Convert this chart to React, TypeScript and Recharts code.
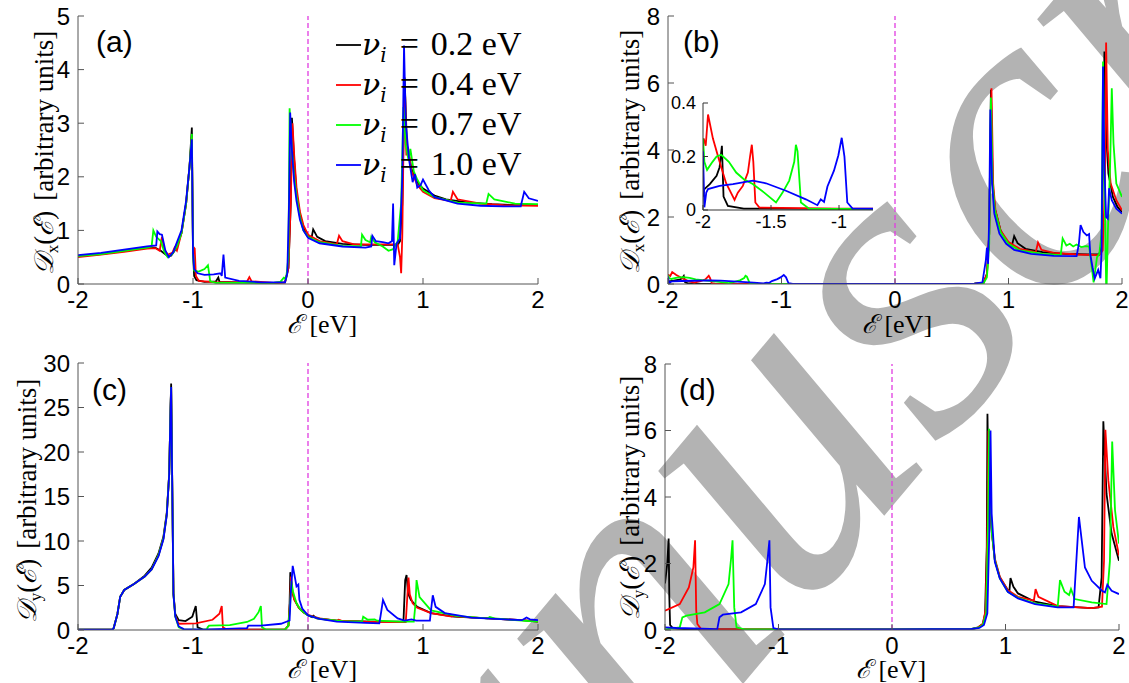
import React from "react";
import { LineChart, Line, XAxis, YAxis, ReferenceLine, CartesianGrid } from "recharts";

type Pt = [number, number];

// ---- axis ticks / labels ----
const xTicks = [-2, -1, 0, 1, 2];
const yTicksA = [0, 1, 2, 3, 4, 5];
const yTicksB = [0, 2, 4, 6, 8];
const yTicksC = [0, 5, 10, 15, 20, 25, 30];
const yTicksD = [0, 2, 4, 6, 8];
const insetXTicks = [-2, -1.5, -1];
const insetYTicks = [0, 0.2, 0.4];

const nuValues = ["0.2", "0.4", "0.7", "1.0"];
const colors = ["#000000", "#ff0000", "#00ff00", "#0000ff"];

// ---- panel (a): D_x, nu = 0.2 / 0.4 / 0.7 / 1.0 ----
const aBlack: Pt[] = [[-2,0.52],[-1.8,0.56],[-1.6,0.62],[-1.4,0.68],[-1.33,0.68],[-1.28,0.62],[-1.22,0.52],[-1.19,0.53],[-1.15,0.65],[-1.1,0.95],[-1.06,1.5],[-1.03,2.2],[-1.01,2.92],[-1.0,0.6],[-0.99,0.15],[-0.97,0.07],[-0.9,0.04],[-0.8,0.05],[-0.78,0.12],[-0.77,0.04],[-0.6,0.03],[-0.3,0.02],[-0.2,0.03],[-0.17,0.3],[-0.15,1.5],[-0.14,3.1],[-0.12,2.3],[-0.1,1.7],[-0.07,1.3],[-0.04,1.05],[0,0.9],[0.03,0.85],[0.045,1.02],[0.08,0.88],[0.15,0.8],[0.3,0.75],[0.5,0.73],[0.7,0.73],[0.78,0.73],[0.8,0.8],[0.82,1.5],[0.84,3.85],[0.86,2.6],[0.9,2.15],[0.95,1.9],[1.0,1.78],[1.1,1.65],[1.2,1.58],[1.4,1.52],[1.6,1.49],[1.8,1.47],[2,1.47]];
const aRed: Pt[] = [[-2,0.5],[-1.8,0.55],[-1.6,0.6],[-1.4,0.66],[-1.33,0.67],[-1.29,0.62],[-1.27,0.88],[-1.25,0.65],[-1.22,0.55],[-1.18,0.58],[-1.16,0.68],[-1.14,0.62],[-1.1,0.95],[-1.06,1.5],[-1.03,2.2],[-1.01,2.75],[-1.0,0.7],[-0.985,0.66],[-0.975,0.15],[-0.95,0.06],[-0.8,0.03],[-0.6,0.03],[-0.53,0.05],[-0.51,0.13],[-0.49,0.05],[-0.3,0.02],[-0.2,0.03],[-0.17,0.3],[-0.15,1.5],[-0.135,3.0],[-0.12,2.4],[-0.1,1.8],[-0.07,1.35],[-0.04,1.1],[0,0.92],[0.1,0.8],[0.25,0.74],[0.27,0.9],[0.3,0.8],[0.4,0.74],[0.6,0.74],[0.78,0.74],[0.8,0.5],[0.81,0.2],[0.82,0.9],[0.83,2.5],[0.845,3.5],[0.855,2.4],[0.87,2.55],[0.9,2.1],[0.95,1.85],[1.0,1.72],[1.1,1.6],[1.24,1.55],[1.26,1.72],[1.3,1.58],[1.5,1.5],[1.7,1.47],[2,1.46]];
const aGreen: Pt[] = [[-2,0.52],[-1.8,0.56],[-1.6,0.62],[-1.4,0.68],[-1.36,0.7],[-1.345,1.0],[-1.32,0.88],[-1.28,0.8],[-1.25,0.6],[-1.22,0.5],[-1.18,0.56],[-1.14,0.7],[-1.1,0.95],[-1.06,1.5],[-1.03,2.2],[-1.01,2.8],[-1.0,0.6],[-0.99,0.25],[-0.95,0.23],[-0.9,0.28],[-0.87,0.35],[-0.85,0.05],[-0.8,0.02],[-0.6,0.02],[-0.3,0.02],[-0.24,0.04],[-0.21,0.12],[-0.19,0.1],[-0.17,0.5],[-0.16,3.28],[-0.14,2.5],[-0.12,2.0],[-0.1,1.65],[-0.07,1.25],[-0.04,1.0],[0,0.88],[0.1,0.78],[0.3,0.71],[0.46,0.7],[0.47,0.92],[0.5,0.82],[0.54,0.78],[0.55,0.88],[0.58,0.78],[0.65,0.7],[0.7,0.62],[0.74,0.65],[0.78,0.8],[0.81,1.5],[0.83,3.3],[0.85,2.6],[0.875,2.3],[0.89,2.52],[0.92,2.1],[0.95,1.95],[1.0,1.75],[1.1,1.62],[1.3,1.52],[1.55,1.5],[1.57,1.68],[1.62,1.58],[1.8,1.5],[2,1.49]];
const aBlue: Pt[] = [[-2,0.54],[-1.8,0.58],[-1.6,0.64],[-1.4,0.7],[-1.32,0.72],[-1.31,0.98],[-1.29,0.93],[-1.27,0.92],[-1.24,0.62],[-1.21,0.5],[-1.19,0.55],[-1.17,0.6],[-1.15,0.72],[-1.1,1.0],[-1.06,1.55],[-1.03,2.2],[-1.01,2.7],[-1.0,0.6],[-0.99,0.28],[-0.96,0.2],[-0.9,0.17],[-0.82,0.18],[-0.76,0.2],[-0.75,0.15],[-0.735,0.55],[-0.72,0.12],[-0.6,0.06],[-0.4,0.03],[-0.2,0.03],[-0.18,0.2],[-0.165,1.5],[-0.155,3.2],[-0.14,2.5],[-0.12,1.9],[-0.1,1.55],[-0.07,1.2],[-0.04,1.0],[0,0.86],[0.1,0.76],[0.3,0.7],[0.5,0.68],[0.55,0.7],[0.56,0.9],[0.59,0.8],[0.65,0.78],[0.7,0.76],[0.73,0.8],[0.74,1.5],[0.75,0.35],[0.77,0.75],[0.8,0.85],[0.82,2.0],[0.835,4.45],[0.85,3.0],[0.88,2.3],[0.91,1.9],[0.93,2.05],[0.95,1.8],[0.98,1.85],[1.0,1.95],[1.05,1.75],[1.1,1.62],[1.3,1.5],[1.5,1.46],[1.7,1.45],[1.85,1.45],[1.88,1.72],[1.92,1.6],[2,1.55]];

// ---- panel (b): D_x, second set (inset re-uses these) ----
const bBlack: Pt[] = [[-2,0.05],[-1.99,0.078],[-1.95,0.097],[-1.9,0.128],[-1.878,0.16],[-1.861,0.24],[-1.849,0.05],[-1.817,0.015],[-1.7,0.005],[-1,0.004],[0,0.003],[0.7,0.01],[0.78,0.04],[0.81,0.3],[0.83,1.5],[0.845,5.8],[0.86,3.0],[0.88,2.25],[0.93,1.6],[0.98,1.3],[1.03,1.15],[1.05,1.43],[1.08,1.22],[1.15,1.05],[1.3,0.95],[1.5,0.9],[1.7,0.88],[1.8,0.88],[1.82,1.2],[1.835,4.0],[1.845,6.94],[1.86,4.5],[1.88,3.3],[1.92,2.6],[1.96,2.3],[2,2.15]];
const bRed: Pt[] = [[-2,0.25],[-1.995,0.267],[-1.98,0.24],[-1.963,0.357],[-1.927,0.267],[-1.878,0.18],[-1.83,0.1],[-1.768,0.038],[-1.744,0.065],[-1.707,0.09],[-1.67,0.14],[-1.654,0.2],[-1.641,0.244],[-1.63,0.18],[-1.615,0.028],[-1.585,0.009],[-1,0.005],[0,0.004],[0.7,0.01],[0.78,0.03],[0.81,0.3],[0.83,1.5],[0.85,5.84],[0.865,3.0],[0.885,2.2],[0.93,1.6],[1.0,1.25],[1.1,1.05],[1.24,0.95],[1.26,1.24],[1.29,1.02],[1.4,0.93],[1.6,0.88],[1.8,0.86],[1.83,1.0],[1.85,3.0],[1.86,7.21],[1.875,4.0],[1.9,3.0],[1.95,2.5],[2,2.2]];
const bGreen: Pt[] = [[-2,0.267],[-1.99,0.18],[-1.97,0.15],[-1.93,0.18],[-1.9,0.2],[-1.866,0.206],[-1.81,0.18],[-1.756,0.14],[-1.7,0.115],[-1.634,0.097],[-1.55,0.065],[-1.463,0.028],[-1.415,0.065],[-1.366,0.11],[-1.329,0.18],[-1.317,0.244],[-1.305,0.22],[-1.28,0.028],[-1.22,0.005],[-1,0.004],[0,0.003],[0.7,0.01],[0.78,0.02],[0.81,0.2],[0.83,1.2],[0.845,5.57],[0.86,3.0],[0.88,2.2],[0.93,1.55],[1.0,1.2],[1.1,1.0],[1.3,0.9],[1.46,0.86],[1.477,1.36],[1.51,1.15],[1.54,1.2],[1.57,1.12],[1.6,1.18],[1.64,1.1],[1.68,1.13],[1.71,1.12],[1.73,0.6],[1.75,0.05],[1.76,0.3],[1.78,0.8],[1.8,0.9],[1.82,1.5],[1.833,6.64],[1.845,3.0],[1.855,1.2],[1.86,0.0],[1.865,0.0],[1.875,1.5],[1.895,3.5],[1.91,5.84],[1.925,4.2],[1.95,3.0],[2,2.6]];
const bBlue: Pt[] = [[-2,0.22],[-1.99,0.01],[-1.976,0.065],[-1.963,0.078],[-1.878,0.09],[-1.78,0.097],[-1.634,0.11],[-1.537,0.1],[-1.39,0.072],[-1.244,0.04],[-1.159,0.018],[-1.134,0.04],[-1.11,0.03],[-1.085,0.088],[-1.037,0.147],[-1.005,0.204],[-0.98,0.27],[-0.97,0.235],[-0.96,0.2],[-0.939,0.028],[-0.9,0.005],[0,0.003],[0.7,0.01],[0.77,0.05],[0.8,0.7],[0.81,1.09],[0.82,0.6],[0.83,2.0],[0.84,5.21],[0.855,3.0],[0.875,2.1],[0.92,1.5],[0.98,1.2],[1.05,1.02],[1.2,0.9],[1.4,0.84],[1.6,0.83],[1.62,1.2],[1.635,1.76],[1.66,1.55],[1.69,1.45],[1.71,1.49],[1.72,0.9],[1.74,0.5],[1.76,0.17],[1.79,0.42],[1.81,0.17],[1.82,1.0],[1.833,6.49],[1.845,3.5],[1.86,2.0],[1.875,1.95],[1.886,2.86],[1.91,2.5],[1.95,2.25],[2,2.1]];

// ---- panel (c): D_y ----
const cBlack: Pt[] = [[-2,0.05],[-1.7,0.08],[-1.69,0.2],[-1.657,1.8],[-1.633,3.74],[-1.598,4.5],[-1.51,5.2],[-1.42,6.1],[-1.36,7.0],[-1.3,8.6],[-1.257,10.5],[-1.228,13.2],[-1.207,17.5],[-1.195,25.1],[-1.19,27.7],[-1.17,4.1],[-1.154,1.8],[-1.124,1.1],[-1.065,1.0],[-1.006,1.5],[-0.976,2.7],[-0.96,0.3],[-0.917,0.08],[-0.5,0.03],[-0.2,0.05],[-0.17,0.5],[-0.16,3.0],[-0.154,6.5],[-0.14,4.5],[-0.12,3.5],[-0.08,2.5],[-0.04,2.0],[0,1.65],[0.035,1.45],[0.047,1.6],[0.076,1.3],[0.25,1.05],[0.54,0.94],[0.83,0.94],[0.845,5.6],[0.857,6.18],[0.87,4.1],[0.895,3.37],[0.95,2.6],[1.07,1.9],[1.27,1.5],[1.57,1.3],[1.86,1.1],[2,0.95]];
const cRed: Pt[] = [[-2,0.05],[-1.7,0.08],[-1.69,0.2],[-1.657,1.8],[-1.633,3.74],[-1.598,4.5],[-1.51,5.2],[-1.42,6.0],[-1.36,6.8],[-1.3,8.4],[-1.257,10.3],[-1.228,13.0],[-1.207,17.5],[-1.195,25.0],[-1.19,27.3],[-1.17,4.1],[-1.154,1.6],[-1.124,0.7],[-0.976,0.75],[-0.83,1.15],[-0.77,1.83],[-0.75,2.7],[-0.74,0.3],[-0.71,0.08],[-0.5,0.03],[-0.2,0.05],[-0.17,0.5],[-0.155,3.5],[-0.148,6.0],[-0.135,4.3],[-0.12,3.4],[-0.08,2.5],[-0.04,2.0],[0,1.7],[0.1,1.3],[0.25,1.05],[0.266,1.15],[0.29,1.05],[0.54,0.92],[0.85,0.9],[0.86,3.0],[0.874,5.9],[0.885,4.0],[0.91,3.0],[0.95,2.5],[1.07,1.9],[1.25,1.5],[1.27,1.6],[1.3,1.5],[1.57,1.3],[1.86,1.1],[2,0.95]];
const cGreen: Pt[] = [[-2,0.05],[-1.7,0.08],[-1.69,0.2],[-1.657,1.8],[-1.633,3.74],[-1.598,4.5],[-1.51,5.2],[-1.42,6.0],[-1.36,6.8],[-1.3,8.4],[-1.257,10.3],[-1.228,13.0],[-1.207,17.5],[-1.195,25.0],[-1.19,27.3],[-1.17,4.0],[-1.154,1.5],[-1.124,0.3],[-1.08,0.08],[-0.88,0.05],[-0.873,0.3],[-0.86,0.5],[-0.68,0.55],[-0.53,0.9],[-0.47,1.26],[-0.43,2.0],[-0.41,2.7],[-0.4,0.3],[-0.37,0.08],[-0.2,0.05],[-0.17,0.5],[-0.155,3.0],[-0.145,5.5],[-0.13,4.3],[-0.1,3.0],[-0.06,2.2],[0,1.65],[0.1,1.25],[0.3,1.0],[0.47,0.95],[0.48,1.5],[0.52,1.15],[0.58,1.2],[0.6,1.05],[0.8,0.95],[0.92,0.95],[0.935,3.0],[0.944,5.6],[0.97,3.7],[1.07,2.2],[1.3,1.55],[1.56,1.3],[1.58,1.45],[1.62,1.3],[1.86,1.05],[2,0.95]];
const cBlue: Pt[] = [[-2,0.05],[-1.7,0.08],[-1.69,0.2],[-1.657,1.8],[-1.633,3.74],[-1.598,4.5],[-1.51,5.2],[-1.42,6.0],[-1.36,6.8],[-1.3,8.3],[-1.257,10.2],[-1.228,12.9],[-1.207,17.5],[-1.195,25.0],[-1.19,27.3],[-1.17,4.0],[-1.154,1.5],[-1.124,0.4],[-1.08,0.1],[-0.9,0.05],[-0.53,0.2],[-0.52,0.5],[-0.41,0.5],[-0.235,0.7],[-0.16,1.07],[-0.15,4.1],[-0.133,7.2],[-0.115,6.0],[-0.1,4.9],[-0.084,5.1],[-0.075,3.4],[-0.05,2.4],[0,1.64],[0.1,1.25],[0.25,0.95],[0.5,0.8],[0.62,0.75],[0.63,1.5],[0.652,3.37],[0.69,2.25],[0.78,1.3],[0.84,1.05],[0.9,1.2],[0.94,1.05],[1.06,1.05],[1.07,2.25],[1.085,3.9],[1.11,2.6],[1.19,1.9],[1.42,1.4],[1.86,1.1],[1.9,1.4],[1.93,1.2],[2,1.1]];

// ---- panel (d): D_y, second set ----
const dBlack: Pt[] = [[-2,1.4],[-1.98,2.0],[-1.968,2.75],[-1.962,1.0],[-1.955,0.15],[-1.93,0.05],[-1.8,0.02],[0,0.02],[0.7,0.03],[0.76,0.08],[0.8,0.18],[0.82,0.48],[0.835,2.5],[0.841,6.5],[0.85,4.5],[0.876,3.1],[0.906,2.1],[0.95,1.58],[1.02,1.2],[1.035,1.2],[1.044,1.56],[1.07,1.3],[1.11,1.1],[1.26,0.85],[1.46,0.72],[1.76,0.66],[1.82,0.68],[1.847,1.58],[1.862,6.28],[1.89,4.1],[1.935,2.9],[2,2.08]];
const dRed: Pt[] = [[-2,0.58],[-1.87,0.78],[-1.79,1.28],[-1.75,1.88],[-1.735,2.7],[-1.725,0.6],[-1.715,0.18],[-1.68,0.02],[0,0.02],[0.7,0.03],[0.76,0.08],[0.8,0.18],[0.825,0.6],[0.84,3.0],[0.85,6.0],[0.86,4.2],[0.88,2.9],[0.906,2.15],[0.95,1.6],[1.02,1.2],[1.11,1.0],[1.25,0.88],[1.265,1.23],[1.29,1.0],[1.46,0.72],[1.76,0.66],[1.85,0.7],[1.868,2.08],[1.88,6.02],[1.906,4.5],[1.95,3.1],[2,2.24]];
const dGreen: Pt[] = [[-2,0.02],[-1.87,0.08],[-1.847,0.38],[-1.81,0.43],[-1.65,0.53],[-1.52,0.78],[-1.44,1.38],[-1.417,2.18],[-1.405,2.7],[-1.39,0.68],[-1.37,0.08],[-1.3,0.02],[0,0.02],[0.7,0.03],[0.76,0.07],[0.8,0.15],[0.83,0.5],[0.845,3.0],[0.856,6.05],[0.866,4.0],[0.88,2.9],[0.906,2.1],[0.95,1.55],[1.02,1.15],[1.11,0.97],[1.26,0.8],[1.46,0.7],[1.48,1.5],[1.52,1.15],[1.56,1.05],[1.577,1.23],[1.61,0.93],[1.76,0.83],[1.89,0.78],[1.92,2.08],[1.94,5.67],[1.965,3.6],[2,2.6]];
const dBlue: Pt[] = [[-2,0.08],[-1.9,0.06],[-1.6,0.03],[-1.54,0.02],[-1.52,0.38],[-1.49,0.46],[-1.33,0.53],[-1.2,0.78],[-1.12,1.38],[-1.095,2.18],[-1.08,2.7],[-1.07,0.68],[-1.045,0.06],[-1.0,0.02],[0,0.02],[0.7,0.03],[0.77,0.06],[0.81,0.15],[0.84,0.5],[0.858,3.0],[0.868,6.0],[0.878,3.5],[0.906,2.05],[0.95,1.55],[1.02,1.15],[1.11,0.95],[1.26,0.78],[1.46,0.68],[1.6,0.68],[1.647,3.4],[1.7,1.88],[1.76,1.48],[1.85,1.18],[1.876,1.13],[1.897,1.36],[1.935,1.18],[2,1.08]];

const toRows = (pts: Pt[]) => pts.map(([x, y]) => ({ x, y }));

const sans = "'Liberation Sans', Arial, Helvetica, sans-serif";
const serif = "'Liberation Serif', 'DejaVu Serif', serif";
const mathItalic = "'DejaVu Serif', serif";
const frame = "#555";
const magenta = "#e03ce0";

type PanelProps = {
  left: number;
  top: number;
  width: number;
  height: number;
  padL: number;
  padT: number;
  padR: number;
  padB: number;
  yMax: number;
  yTicks: number[];
  series: Pt[][];
};

function Panel({ left, top, width, height, padL, padT, padR, padB, yMax, yTicks, series }: PanelProps) {
  const tickStyle = { fill: "#000", fontSize: 24, fontFamily: sans };
  return (
    <div style={{ position: "absolute", left, top, width, height }}>
      <LineChart width={width} height={height} margin={{ top: padT, right: padR, left: 0, bottom: 0 }}>
        <XAxis xAxisId="b" dataKey="x" type="number" domain={[-2, 2]} ticks={xTicks} height={padB}
          tickSize={-6} tickMargin={13} stroke={frame} tick={tickStyle} allowDataOverflow interval={0} />
        <XAxis xAxisId="t" orientation="top" dataKey="x" type="number" domain={[-2, 2]} ticks={xTicks} height={0}
          tickSize={-6} stroke={frame} tick={false} allowDataOverflow interval={0} />
        <YAxis yAxisId="l" type="number" domain={[0, yMax]} ticks={yTicks} width={padL}
          tickSize={-6} tickMargin={14} stroke={frame} tick={tickStyle} allowDataOverflow interval={0} />
        <YAxis yAxisId="r" orientation="right" type="number" domain={[0, yMax]} ticks={yTicks} width={0}
          tickSize={-6} stroke={frame} tick={false} allowDataOverflow interval={0} />
        <ReferenceLine xAxisId="b" yAxisId="l" x={0} stroke={magenta} strokeWidth={1.3} strokeDasharray="5 3" />
        {series.map((pts, i) => (
          <Line key={i} xAxisId="b" yAxisId="l" data={toRows(pts)} dataKey="y" type="linear"
            stroke={colors[i]} strokeWidth={1.8} dot={false} isAnimationActive={false} />
        ))}
      </LineChart>
    </div>
  );
}

function Inset() {
  const tickStyle = { fill: "#000", fontSize: 18, fontFamily: sans };
  const series = [bBlack, bRed, bGreen, bBlue];
  return (
    <div style={{ position: "absolute", left: 660, top: 85, width: 220, height: 155 }}>
      <LineChart width={220} height={155} margin={{ top: 18, right: 7, left: 0, bottom: 0 }}>
        <CartesianGrid xAxisId="b" yAxisId="l" fill="#fff" horizontal={false} vertical={false} />
        <XAxis xAxisId="b" dataKey="x" type="number" domain={[-2, -0.75]} ticks={insetXTicks} height={30}
          tickSize={-5} tickMargin={10} stroke="#333" tick={tickStyle} allowDataOverflow interval={0} />
        <XAxis xAxisId="t" orientation="top" dataKey="x" type="number" domain={[-2, -0.75]} ticks={insetXTicks} height={0}
          tickSize={-5} stroke="#333" tick={false} allowDataOverflow interval={0} />
        <YAxis yAxisId="l" type="number" domain={[0, 0.4]} ticks={insetYTicks} width={43}
          tickSize={-5} tickMargin={12} stroke="#333" tick={tickStyle} allowDataOverflow interval={0} />
        <YAxis yAxisId="r" orientation="right" type="number" domain={[0, 0.4]} ticks={insetYTicks} width={0}
          tickSize={-5} stroke="#333" tick={false} allowDataOverflow interval={0} />
        {series.map((pts, i) => (
          <Line key={i} xAxisId="b" yAxisId="l" data={toRows(pts)} dataKey="y" type="linear"
            stroke={colors[i]} strokeWidth={1.8} dot={false} isAnimationActive={false} />
        ))}
      </LineChart>
    </div>
  );
}

function YLabel({ x, y, sub }: { x: number; y: number; sub: string }) {
  return (
    <text transform={`translate(${x},${y}) rotate(-90)`} textAnchor="middle" fontFamily={serif} fontSize={27}>
      <tspan fontStyle="italic">𝒟</tspan>
      <tspan fontSize={17} dy={5}>{sub}</tspan>
      <tspan dy={-5}>(</tspan>
      <tspan fontStyle="italic">ℰ</tspan>
      <tspan>)</tspan>
      <tspan dx={10}>[arbitrary units]</tspan>
    </text>
  );
}

function XLabel({ x, y }: { x: number; y: number }) {
  return (
    <text x={x} y={y} textAnchor="middle" fontFamily={serif} fontSize={26}>
      <tspan fontStyle="italic">ℰ</tspan>
      <tspan> [eV]</tspan>
    </text>
  );
}

export default function App() {
  return (
    <div style={{ position: "absolute", left: 0, top: 0, width: 1129, height: 683, background: "#fff", overflow: "hidden" }}>
      <svg width={1129} height={683} style={{ position: "absolute", left: 0, top: 0 }}>
        <text transform="translate(279,1237) rotate(-50)" fontFamily={serif} fontStyle="italic" fontSize={440} fill="#b3b3b3">
          Manuscript
        </text>
      </svg>

      <Panel left={0} top={0} width={560} height={340} padL={78} padT={16} padR={22} padB={56}
        yMax={5} yTicks={yTicksA} series={[aBlack, aRed, aGreen, aBlue]} />
      <Panel left={560} top={0} width={569} height={340} padL={108} padT={16} padR={7} padB={56}
        yMax={8} yTicks={yTicksB} series={[bBlack, bRed, bGreen, bBlue]} />
      <Panel left={0} top={340} width={560} height={343} padL={78} padT={23} padR={22} padB={53}
        yMax={30} yTicks={yTicksC} series={[cBlack, cRed, cGreen, cBlue]} />
      <Panel left={560} top={340} width={569} height={343} padL={105} padT={24} padR={10} padB={53}
        yMax={8} yTicks={yTicksD} series={[dBlack, dRed, dGreen, dBlue]} />
      <Inset />

      <svg width={1129} height={683} style={{ position: "absolute", left: 0, top: 0, pointerEvents: "none" }}>
        <YLabel x={53} y={153} sub="x" />
        <YLabel x={639} y={152} sub="x" />
        <YLabel x={36} y={501} sub="y" />
        <YLabel x={639} y={498} sub="y" />
        <XLabel x={322} y={333} />
        <XLabel x={897} y={333} />
        <XLabel x={322} y={678} />
        <XLabel x={891} y={678} />
        <text x={96} y={52} fontFamily={sans} fontSize={30}>(a)</text>
        <text x={683} y={52} fontFamily={sans} fontSize={30}>(b)</text>
        <text x={92} y={400} fontFamily={sans} fontSize={30}>(c)</text>
        <text x={679} y={400} fontFamily={sans} fontSize={30}>(d)</text>
        {nuValues.map((v, i) => (
          <g key={v}>
            <line x1={336} x2={361} y1={45 + 40 * i} y2={45 + 40 * i} stroke={colors[i]} strokeWidth={1.8} />
            <text x={362} y={55 + 40 * i} fontFamily={serif} fontSize={34}>
              <tspan fontFamily={mathItalic} fontStyle="italic" fontSize={30}>ν</tspan>
              <tspan fontFamily={mathItalic} fontStyle="italic" fontSize={20} dy={7}>i</tspan>
              <tspan dy={-7} dx={13}>=</tspan>
              <tspan dx={12}>{v} eV</tspan>
            </text>
          </g>
        ))}
      </svg>
    </div>
  );
}
